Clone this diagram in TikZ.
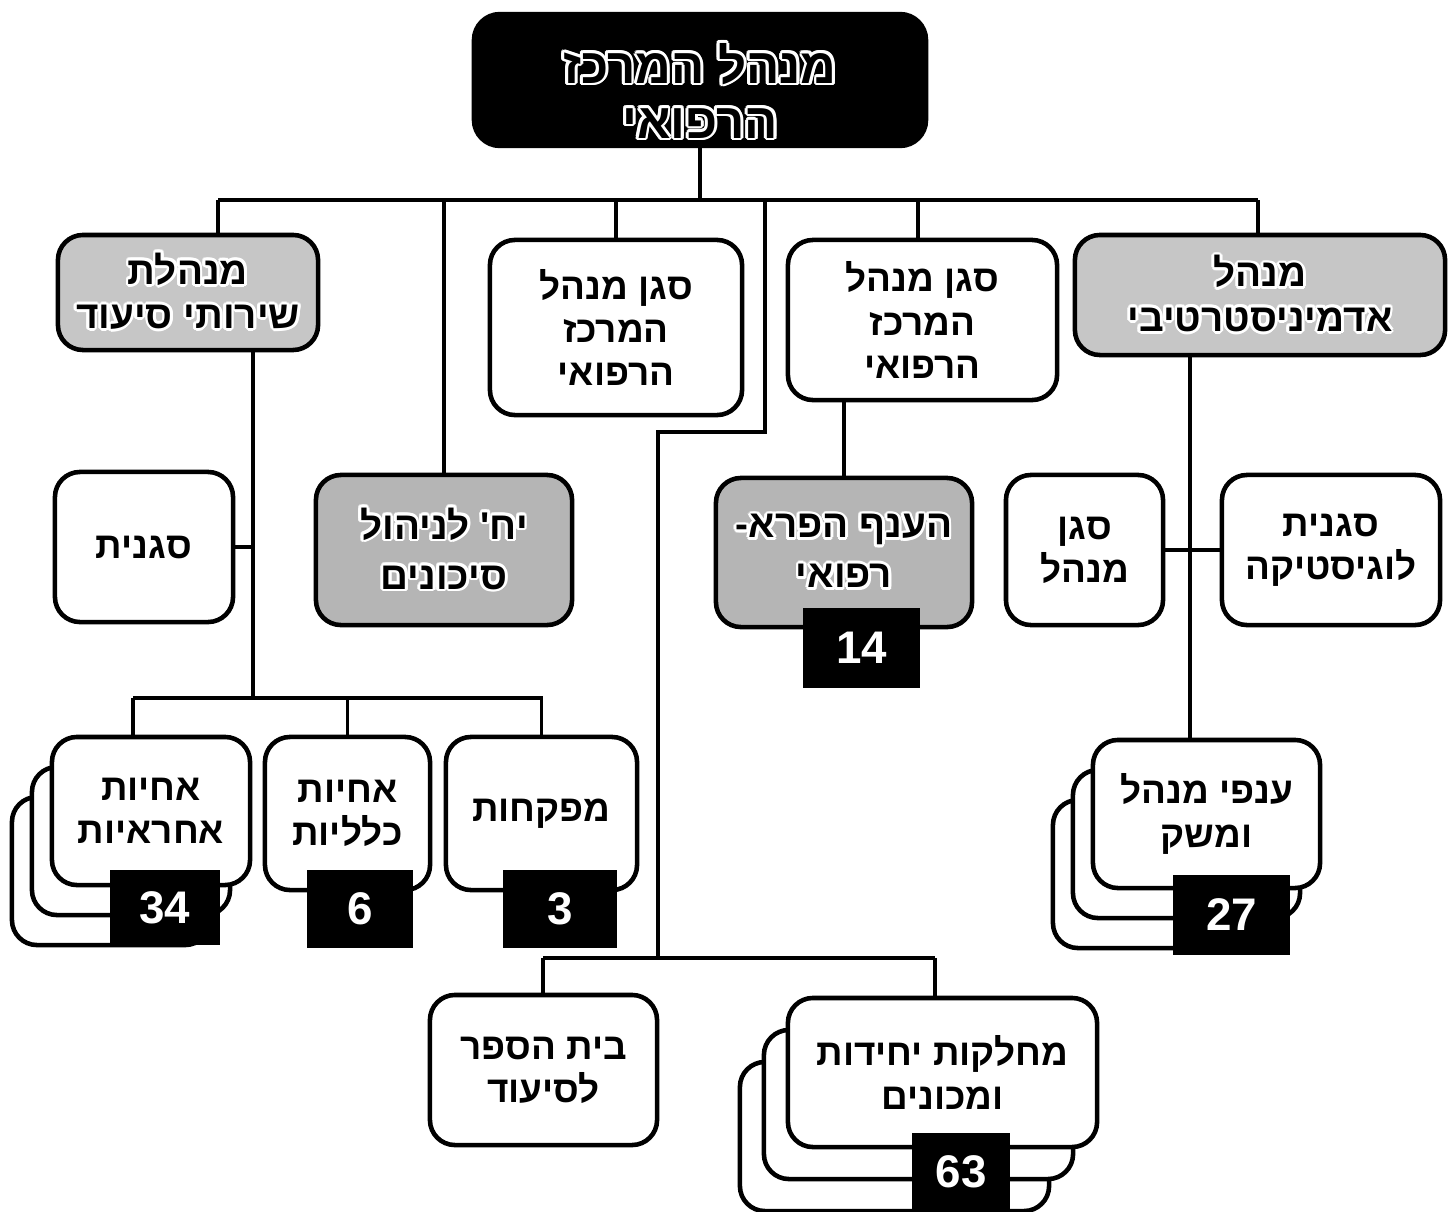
\documentclass[tikz,border=0pt]{standalone}
\usepackage{fontspec}
\usepackage{contour}
\setmainfont{Liberation Sans}
\newfontfamily\hebfont[Script=Hebrew]{Liberation Sans}
\TeXXeTstate=1
\contourlength{0.8pt}
\contournumber{12}
\newcommand{\heb}[1]{\beginR #1\endR}
\newcommand{\hebc}[1]{\contour{white}{\beginR #1\endR}}

\begin{document}
\begin{tikzpicture}[x=0.01cm, y=-0.01cm,
    box/.style={draw, line width=1.3pt, rounded corners=0.25cm, fill=white, align=center, inner sep=0, font=\hebfont\bfseries\fontsize{10.5}{12.3}\selectfont},
    shadebox/.style={box, fill=gray!45},
    darkbox/.style={box, fill=gray!58},
    badge/.style={fill=black, inner sep=0, text=white, font=\bfseries\fontsize{13}{14}\selectfont},
    link/.style={line width=0.9pt}]
  \useasboundingbox (0,0) rectangle (1448,1212);

  \node [box, fill=black, line width=1.8pt, minimum width=4.5cm, minimum height=1.3cm] (top) at (700,80) {};
  \node [font=\hebfont\bfseries\fontsize{14}{15.6}\selectfont, align=center, inner sep=0] (toptext) at (700,92) {\hebc{מנהל המרכז}\\\hebc{הרפואי}};

  \node [shadebox, minimum width=2.6cm, minimum height=1.15cm, font=\hebfont\bfseries\fontsize{11}{12.6}\selectfont] (sup) at (188,292.5) {\hebc{מנהלת}\\\hebc{שירותי סיעוד}};
  \node [box, minimum width=2.52cm, minimum height=1.75cm] (dep1) at (616,327.5) {\heb{סגן מנהל}\\\heb{המרכז}\\\heb{הרפואי}};
  \node [box, minimum width=2.69cm, minimum height=1.6cm] (dep2) at (922.5,320) {\heb{סגן מנהל}\\\heb{המרכז}\\\heb{הרפואי}};
  \node [shadebox, minimum width=3.7cm, minimum height=1.2cm, font=\hebfont\bfseries\fontsize{11}{12.6}\selectfont] (adm) at (1260,295) {\hebc{מנהל}\\\hebc{אדמיניסטרטיבי}};

  \node [box, minimum width=1.78cm, minimum height=1.5cm] (depn) at (144,547) {\heb{סגנית}};
  \node [darkbox, minimum width=2.56cm, minimum height=1.5cm, font=\hebfont\bfseries\fontsize{11}{14.2}\selectfont] (risk) at (444,550) {\hebc{יח' לניהול}\\\hebc{סיכונים}};
  \node [darkbox, minimum width=2.56cm, minimum height=1.49cm, font=\hebfont\bfseries\fontsize{11}{14.2}\selectfont] (para) at (844,552.5) {\hebc{הענף הפרא-}\\\hebc{רפואי}};
  \node [badge, minimum width=1.17cm, minimum height=0.8cm] (b14) at (861.5,648) {14};
  \node [box, minimum width=1.57cm, minimum height=1.5cm] (admdep) at (1084.5,550) {\heb{סגן}\\\heb{מנהל}};
  \node [box, minimum width=2.18cm, minimum height=1.5cm] (logi) at (1331,550) {\heb{סגנית}\\\heb{לוגיסטיקה}};

  \foreach \d in {2,1} {\node [box, minimum width=1.98cm, minimum height=1.48cm] (head\d) at (151-20*\d,811+30*\d) {};}
  \node [box, minimum width=1.98cm, minimum height=1.48cm] (head) at (151,811) {\heb{אחיות}\\\heb{אחראיות}};
  \node [badge, minimum width=1.1cm, minimum height=0.75cm] (b34) at (165,907.5) {34};
  \node [box, minimum width=1.65cm, minimum height=1.53cm] (gen) at (347.5,813.5) {\heb{אחיות}\\\heb{כלליות}};
  \node [badge, minimum width=1.06cm, minimum height=0.78cm] (b6) at (360,909) {6};
  \node [box, minimum width=1.91cm, minimum height=1.53cm] (supn) at (541.5,813.5) {\heb{מפקחות}};
  \node [badge, minimum width=1.14cm, minimum height=0.78cm] (b3) at (560,909) {3};

  \foreach \d in {2,1} {\node [box, minimum width=2.27cm, minimum height=1.48cm] (br\d) at (1206.5-20*\d,814+30*\d) {};}
  \node [box, minimum width=2.27cm, minimum height=1.48cm] (br) at (1206.5,814) {\heb{ענפי מנהל}\\\heb{ומשק}};
  \node [badge, minimum width=1.17cm, minimum height=0.8cm] (b27) at (1231.5,915) {27};

  \node [box, minimum width=2.27cm, minimum height=1.5cm] (school) at (543.5,1070) {\heb{בית הספר}\\\heb{לסיעוד}};
  \foreach \d in {2,1} {\node [box, minimum width=3.09cm, minimum height=1.49cm] (dpt\d) at (942.5-24*\d,1072.5+32*\d) {};}
  \node [box, minimum width=3.09cm, minimum height=1.49cm] (dpt) at (942.5,1072.5) {\heb{מחלקות יחידות}\\\heb{ומכונים}};
  \node [badge, minimum width=0.98cm, minimum height=0.77cm] (b63) at (961,1171.5) {63};

  \coordinate (busL) at (218,200);
  \coordinate (busR) at (1258,200);
  \coordinate (mid) at (765,200);
  \coordinate (bend) at (658,432);
  \coordinate (forkL) at (543,958);
  \coordinate (forkR) at (935,958);
  \coordinate (supline) at (253,698);
  \coordinate (nbL) at (133,698);
  \coordinate (nbR) at (543,698);
  \coordinate (admline) at (1190,740);

  \draw [link] (top) -- (top |- busL);
  \draw [link] (busL) -- (busR);
  \draw [link] (busL) -- (busL |- sup.north);
  \draw [link] (risk.north |- busL) -- (risk.north);
  \draw [link] (dep1.north |- busL) -- (dep1.north);
  \draw [link] (918,200) -- (918,240);
  \draw [link] (busR) -- (busR |- adm.north);
  \draw [link] (mid) |- (bend) -- (bend |- forkL);
  \draw [link] (forkL) -- (forkR);
  \draw [link] (forkL) -- (forkL |- school.north);
  \draw [link] (forkR) -- (forkR |- dpt.north);
  \draw [link] (sup.south -| supline) -- (supline);
  \draw [link] (depn.east) -- (depn.east -| supline);
  \draw [link] (nbL) -- (nbR);
  \draw [link] (nbL) -- (nbL |- head.north);
  \draw [link] (gen.north |- nbL) -- (gen.north);
  \draw [link] (supn.north |- nbL) -- (supn.north);
  \draw [link] (para.north |- dep2.south) -- (para.north);
  \draw [link] (adm.south -| admline) -- (admline);
  \draw [link] (admdep.east) -- (logi.west);
\end{tikzpicture}
\end{document}
